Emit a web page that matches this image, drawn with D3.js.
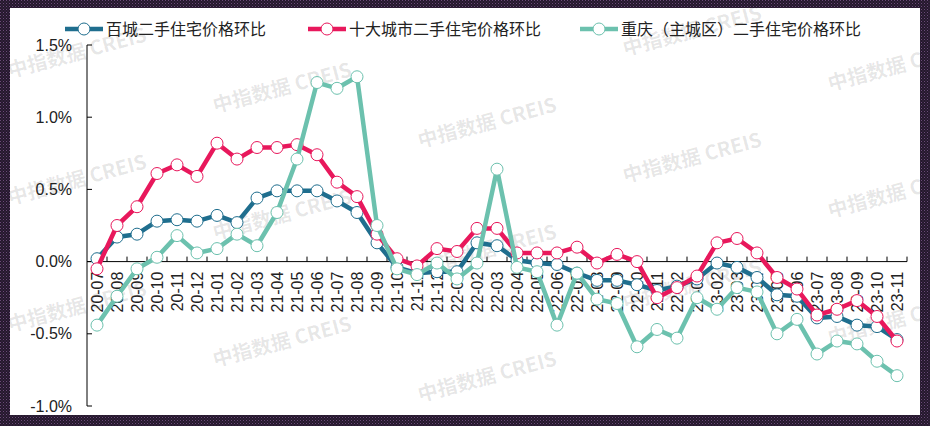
<!DOCTYPE html>
<html>
<head>
<meta charset="utf-8">
<script src="https://cdn.jsdelivr.net/npm/d3@7"></script>
<style>
  body { margin: 0; background: #fff; }
  svg { display: block; }
</style>
</head>
<body>
<div id="chart"></div>
<script>
var months = ['20-07', '20-08', '20-09', '20-10', '20-11', '20-12',
  '21-01', '21-02', '21-03', '21-04', '21-05', '21-06', '21-07', '21-08', '21-09', '21-10', '21-11', '21-12',
  '22-01', '22-02', '22-03', '22-04', '22-05', '22-06', '22-07', '22-08', '22-09', '22-10', '22-11', '22-12',
  '23-01', '23-02', '23-03', '23-04', '23-05', '23-06', '23-07', '23-08', '23-09', '23-10', '23-11']

// 百城二手住宅价格环比 (%)
var baicheng = [0.02, 0.17, 0.19, 0.28, 0.29, 0.28, 0.32, 0.27, 0.44, 0.49, 0.49, 0.49, 0.42, 0.34, 0.13,
  -0.04, -0.08, -0.07, -0.07, 0.13, 0.11, 0.01, -0.01, -0.02, -0.08, -0.13, -0.13, -0.16, -0.20, -0.17,
  -0.12, -0.01, -0.04, -0.11, -0.23, -0.24, -0.39, -0.38, -0.44, -0.45, -0.54]

// 十大城市二手住宅价格环比 (%)
var shida = [-0.05, 0.25, 0.38, 0.61, 0.67, 0.59, 0.82, 0.71, 0.79, 0.79, 0.81, 0.74, 0.55, 0.45, 0.19,
  0.02, -0.03, 0.09, 0.07, 0.23, 0.23, 0.06, 0.06, 0.06, 0.10, -0.01, 0.05, 0.00, -0.25, -0.18,
  -0.10, 0.13, 0.16, 0.06, -0.11, -0.19, -0.37, -0.33, -0.27, -0.38, -0.55]

// 重庆（主城区）二手住宅价格环比 (%)
var chongqing = [-0.44, -0.24, -0.05, 0.03, 0.18, 0.06, 0.09, 0.19, 0.11, 0.34, 0.71, 1.24, 1.20, 1.28, 0.25,
  -0.05, -0.09, -0.01, -0.12, -0.01, 0.64, -0.04, -0.07, -0.44, -0.08, -0.26, -0.29, -0.59, -0.47, -0.53,
  -0.25, -0.33, -0.18, -0.21, -0.50, -0.40, -0.64, -0.55, -0.57, -0.69, -0.79]

var seriesNames = ['百城二手住宅价格环比', '十大城市二手住宅价格环比', '重庆（主城区）二手住宅价格环比']
var seriesColors = ['#1f6e8e', '#e8185c', '#6cc1ae']
var yTicks = [-1.0, -0.5, 0.0, 0.5, 1.0, 1.5]

var width = 930
var height = 426

var svg = d3
  .select('#chart')
  .append('svg')
  .attr('width', width)
  .attr('height', height)

var defs = svg.append('defs')

// dark textured frame round the picture
var pat = defs.append('pattern')
  .attr('id', 'frame')
  .attr('width', 3)
  .attr('height', 3)
  .attr('patternUnits', 'userSpaceOnUse')
pat.append('rect').attr('width', 3).attr('height', 3).attr('fill', '#24182c')
pat.append('rect').attr('width', 1).attr('height', 1).attr('fill', '#6a4a78')
pat.append('rect').attr('x', 1.5).attr('y', 1.5).attr('width', 1).attr('height', 1).attr('fill', '#4a3456')

defs.append('clipPath').attr('id', 'inner')
  .append('rect')
  .attr('x', 10).attr('y', 8)
  .attr('width', 910).attr('height', 407)

svg.append('rect').attr('width', width).attr('height', height).attr('fill', 'url(#frame)')
svg.append('rect')
  .attr('x', 10).attr('y', 8)
  .attr('width', 910).attr('height', 407)
  .attr('fill', '#fff')

var x = d3.scaleBand().domain(months).range([87, 907]).padding(0)
var y = d3.scaleLinear().domain([-1.0, 1.5]).range([406, 45])

// watermarks
var wm = svg.append('g')
  .attr('clip-path', 'url(#inner)')
  .attr('font-family', '"Noto Sans CJK SC", "Liberation Sans", sans-serif')
  .attr('font-weight', 700)
  .attr('font-size', 20)
  .attr('fill', '#000')
  .attr('fill-opacity', 0.1)
var cols = [10, 215, 420, 625, 830]
cols.forEach(function(cx, i) {
  for (var k = -1; k < 4; k++) {
    var cy = 78 + 35 * i + 127 * k
    if (cy < 50 || cy > 420) continue
    wm.append('text')
      .attr('transform', 'translate(' + cx + ',' + cy + ') rotate(-15)')
      .text('中指数据 CREIS')
  }
})

// y axis
var yAxis = svg.append('g').attr('font-family', '"Liberation Sans", Arial, sans-serif')
yAxis.append('line')
  .attr('x1', 87).attr('x2', 87)
  .attr('y1', y(1.5)).attr('y2', y(-1.0))
  .attr('stroke', '#000')
yAxis.selectAll('.ytick')
  .data(yTicks)
  .enter()
  .append('line')
  .attr('x1', 87).attr('x2', 92)
  .attr('y1', d => y(d)).attr('y2', d => y(d))
  .attr('stroke', '#000')
yAxis.selectAll('.ylabel')
  .data(yTicks)
  .enter()
  .append('text')
  .attr('x', 72)
  .attr('y', d => y(d))
  .attr('dy', '0.35em')
  .attr('text-anchor', 'end')
  .attr('font-size', 16)
  .attr('fill', '#222')
  .text(d => d.toFixed(1) + '%')

// x axis at zero
var xAxis = svg.append('g').attr('font-family', '"Liberation Sans", Arial, sans-serif')
xAxis.append('line')
  .attr('x1', 87).attr('x2', 907)
  .attr('y1', y(0)).attr('y2', y(0))
  .attr('stroke', '#000')
xAxis.selectAll('.xtick')
  .data(months)
  .enter()
  .append('line')
  .attr('x1', d => x(d) + x.bandwidth()).attr('x2', d => x(d) + x.bandwidth())
  .attr('y1', y(0)).attr('y2', y(0) - 5)
  .attr('stroke', '#000')
xAxis.selectAll('.xlabel')
  .data(months)
  .enter()
  .append('text')
  .attr('transform', d => 'translate(' + (x(d) + x.bandwidth() / 2) + ',' + (y(0) + 10) + ') rotate(-90)')
  .attr('dy', '0.35em')
  .attr('text-anchor', 'end')
  .attr('font-size', 16)
  .attr('fill', '#222')
  .text(d => d)

// lines and markers
var line = d3.line()
  .x((d, i) => x(months[i]) + x.bandwidth() / 2)
  .y(d => y(d))

;[baicheng, shida, chongqing].forEach(function(values, s) {
  var g = svg.append('g')
  g.append('path')
    .datum(values)
    .attr('d', line)
    .attr('fill', 'none')
    .attr('stroke', seriesColors[s])
    .attr('stroke-width', 4.5)
    .attr('stroke-linejoin', 'round')
  g.selectAll('circle')
    .data(values)
    .enter()
    .append('circle')
    .attr('cx', (d, i) => x(months[i]) + x.bandwidth() / 2)
    .attr('cy', d => y(d))
    .attr('r', 6)
    .attr('fill', '#fff')
    .attr('stroke', seriesColors[s])
    .attr('stroke-width', 1)
})

// legend
var legendX = [65, 308, 580]
var legend = svg.append('g')
  .selectAll('g')
  .data(seriesNames)
  .enter()
  .append('g')
  .attr('transform', (d, i) => 'translate(' + legendX[i] + ',29)')
legend.append('line')
  .attr('x1', 0).attr('x2', 38)
  .attr('stroke', (d, i) => seriesColors[i])
  .attr('stroke-width', 4.5)
legend.append('circle')
  .attr('cx', 19)
  .attr('r', 6)
  .attr('fill', '#fff')
  .attr('stroke', (d, i) => seriesColors[i])
legend.append('text')
  .attr('x', 41)
  .attr('dy', '0.35em')
  .attr('font-family', '"Noto Sans CJK SC", sans-serif')
  .attr('font-size', 16)
  .attr('fill', '#222')
  .text(d => d)
</script>
</body>
</html>
